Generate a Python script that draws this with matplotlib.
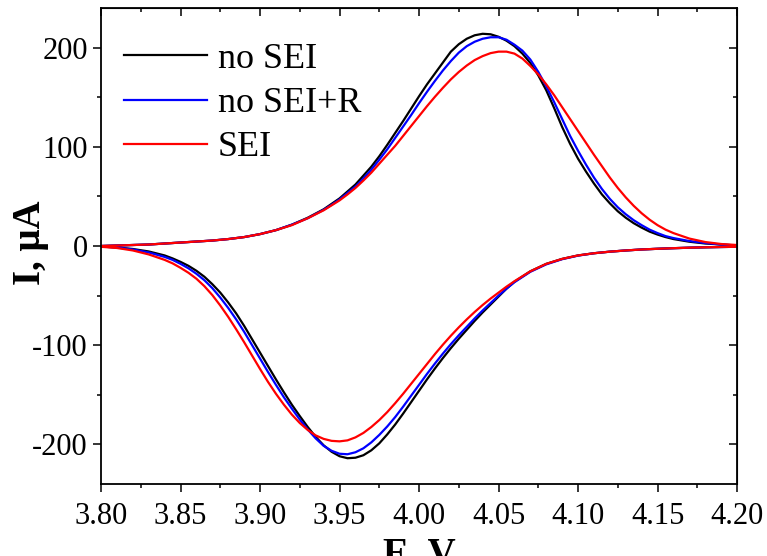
import matplotlib
matplotlib.use("Agg")
import matplotlib.pyplot as plt
from matplotlib.ticker import MultipleLocator, FormatStrFormatter
import numpy as np

plt.rcParams['font.family'] = 'Liberation Serif'
plt.rcParams['axes.unicode_minus'] = False

# potential grid for the forward (anodic) scan, V
E_fwd = [3.80, 3.81, 3.82, 3.83, 3.84, 3.85, 3.86, 3.87, 3.88, 3.89, 3.90,
         3.91, 3.92, 3.93, 3.94,
         3.945, 3.95, 3.955, 3.96, 3.965, 3.97, 3.975, 3.98, 3.985, 3.99,
         3.995, 4.00, 4.005, 4.01, 4.015, 4.02, 4.025, 4.03, 4.035, 4.04,
         4.045, 4.05, 4.055, 4.06, 4.065, 4.07, 4.075, 4.08, 4.085, 4.09,
         4.095, 4.10, 4.105, 4.11, 4.115, 4.12, 4.125, 4.13, 4.135, 4.14,
         4.145, 4.15, 4.155, 4.16,
         4.17, 4.18, 4.19, 4.20]

# potential grid for the reverse (cathodic) scan, listed low to high, V
E_rev = [3.80, 3.81, 3.82, 3.83, 3.84,
         3.845, 3.85, 3.855, 3.86, 3.865, 3.87, 3.875, 3.88, 3.885, 3.89,
         3.895, 3.90, 3.905, 3.91, 3.915, 3.92, 3.925, 3.93, 3.935, 3.94,
         3.945, 3.95, 3.955, 3.96, 3.965, 3.97, 3.975, 3.98, 3.985, 3.99,
         3.995, 4.00, 4.005, 4.01, 4.015, 4.02, 4.025, 4.03, 4.035, 4.04,
         4.045, 4.05, 4.055, 4.06,
         4.07, 4.08, 4.09, 4.10, 4.11, 4.12, 4.13, 4.14, 4.15, 4.16,
         4.17, 4.18, 4.19, 4.20]

# current on the forward scan, uA
i_fwd_nosei = [0, 0.5, 1, 1.5, 2.5, 3.5, 4.5, 5.5, 7, 9, 12, 16, 21.5, 28.5, 37,
               42.5, 48, 55, 62, 71, 80, 90.5, 102, 114, 126,
               138.5, 151, 163, 174, 185, 196, 203.5, 209, 212.5, 214,
               213.5, 211, 207, 201.5, 194, 184.5, 172, 157, 139, 120,
               103, 88, 75, 63, 52, 43, 35, 28.5, 23, 18.5,
               14.5, 11.5, 9, 7,
               4.3, 2.5, 1.5, 0.5]
i_fwd_noseir = [0, 0.5, 1, 1.5, 2.5, 3.5, 4.5, 5.5, 7, 9, 12, 16, 21.5, 28, 36.5,
                41.5, 47, 53.5, 60, 68, 77, 87, 97.5, 109, 120.5,
                132, 144, 155.5, 166.5, 177, 186.5, 195, 201.5, 206, 209,
                210.5, 210.5, 208, 203, 197, 188, 175.5, 161, 145, 128,
                111, 96, 82, 69, 57.5, 47.5, 39, 32, 26, 21,
                16.5, 13, 10, 8,
                5, 3, 1.5, 0.5]
i_fwd_sei = [0, 0.5, 1, 1.5, 2.5, 3.5, 4.5, 5.5, 7, 9, 12, 16, 21, 28, 36,
             41, 46, 52, 58.5, 66, 74, 83, 92, 101, 111,
             121, 131, 141, 150.5, 159.5, 168, 175.5, 182, 187.5, 191.5,
             194.5, 196, 196, 194, 189, 181.5, 173, 163, 152, 140,
             128, 116, 104, 92, 80.5, 69, 58.5, 49, 40.5, 33,
             26.5, 21, 16.5, 13,
             7.5, 4, 2, 1]

# current on the reverse scan (on E_rev), uA
i_rev_nosei = [-0.5, -1.5, -3, -5.5, -9.5,
               -12.5, -16, -20, -25, -31, -38.5, -47, -57, -68, -80.5,
               -94, -107.5, -121, -134.5, -147.5, -160, -171.5, -182.5, -192.5, -201,
               -207.5, -212, -214, -213.5, -211, -206, -199, -190, -180, -169,
               -157.5, -146, -134.5, -123.5, -113, -103, -93.5, -84.5, -75.5, -67,
               -59, -51, -43, -36,
               -25.5, -18, -13, -9.5, -7.3, -5.7, -4.5, -3.5, -2.8, -2.2,
               -1.7, -1.3, -1, -0.8]
i_rev_noseir = [-0.5, -1.5, -3.5, -6.5, -11,
                -14, -18, -22.5, -28, -34.5, -42.5, -52, -62.5, -74, -86.5,
                -100, -113.5, -127, -140, -152.5, -164, -175, -185, -194, -201.5,
                -206.5, -209.5, -210, -208, -204, -198, -190.5, -182, -172.5, -162,
                -151, -140, -129, -118.5, -108.5, -99, -90, -81.5, -73, -65,
                -57.5, -50, -43, -36.5,
                -26, -18.5, -13.3, -9.7, -7.3, -5.7, -4.5, -3.5, -2.8, -2.2,
                -1.7, -1.3, -1, -0.8]
i_rev_sei = [-0.8, -2, -4.5, -8.5, -14,
             -17.5, -22, -27, -33, -40.5, -49.5, -60, -71.5, -84, -97,
             -110.5, -124, -137, -149, -160, -170, -178.5, -185.5, -191, -194.5,
             -196.5, -197, -196, -193, -188.5, -182.5, -175.5, -167.5, -158.5, -149,
             -139, -129, -119, -109, -99.5, -90.5, -82, -74, -66.5, -59.5,
             -53, -47, -41, -35.5,
             -25.5, -18, -13, -9.5, -7.3, -5.7, -4.5, -3.5, -2.8, -2.2,
             -1.7, -1.3, -1, -0.8]

labels = ['no SEI', 'no SEI+R', 'SEI']
colors = ['black', '#0000ff', '#ff0000']
fwd = [i_fwd_nosei, i_fwd_noseir, i_fwd_sei]
rev = [i_rev_nosei, i_rev_noseir, i_rev_sei]

fig = plt.figure(figsize=(7.67, 5.56), dpi=100)
ax = fig.add_axes([0.1317, 0.1295, 0.961 - 0.1317, 0.9856 - 0.1295])

for lab, c, f, r in zip(labels, colors, fwd, rev):
    # full cycle: forward sweep up, then back down
    E = np.concatenate([E_fwd, E_rev[::-1]])
    I = np.concatenate([f, r[::-1]])
    ax.plot(E, I, color=c, lw=1.6, label=lab)

ax.set_xlim(3.80, 4.20)
ax.set_ylim(-240, 240)
ax.xaxis.set_major_locator(MultipleLocator(0.05))
ax.xaxis.set_minor_locator(MultipleLocator(0.025))
ax.yaxis.set_major_locator(MultipleLocator(100))
ax.yaxis.set_minor_locator(MultipleLocator(50))
ax.xaxis.set_major_formatter(FormatStrFormatter('%.2f'))

ax.tick_params(axis='both', which='major', labelsize=22, length=6, width=1.1)
ax.tick_params(axis='both', which='minor', length=3, width=1.1)
ax.tick_params(axis='x', which='both', direction='out', top=False)
ax.tick_params(axis='x', which='major', pad=7)
ax.tick_params(axis='y', which='both', direction='out', right=False)
for s in ax.spines.values():
    s.set_linewidth(1.3)

# inward ticks on top and right
axt = ax.secondary_xaxis('top')
axt.xaxis.set_major_locator(MultipleLocator(0.05))
axt.xaxis.set_minor_locator(MultipleLocator(0.025))
axt.tick_params(which='major', direction='in', length=6, width=1.1, labeltop=False)
axt.tick_params(which='minor', direction='in', length=3, width=1.1)
axr = ax.secondary_yaxis('right')
axr.yaxis.set_major_locator(MultipleLocator(100))
axr.yaxis.set_minor_locator(MultipleLocator(50))
axr.tick_params(which='major', direction='in', length=6, width=1.1, labelright=False)
axr.tick_params(which='minor', direction='in', length=3, width=1.1)

# the x label sits partly below the figure edge, as in the original
ax.set_xlabel('E, V', fontsize=28, fontweight='bold')
ax.set_ylabel('I, μA', fontsize=28, fontweight='bold')
ax.xaxis.set_label_coords(0.5, -0.11)
ax.yaxis.set_label_coords(-0.082, 0.506)

ax.legend(loc='upper left', frameon=False, fontsize=26, handlelength=2.3,
          handletextpad=0.3, labelspacing=0.3, borderaxespad=0.3,
          bbox_to_anchor=(-0.004, 0.98))

fig.savefig('out.png', dpi=100)
